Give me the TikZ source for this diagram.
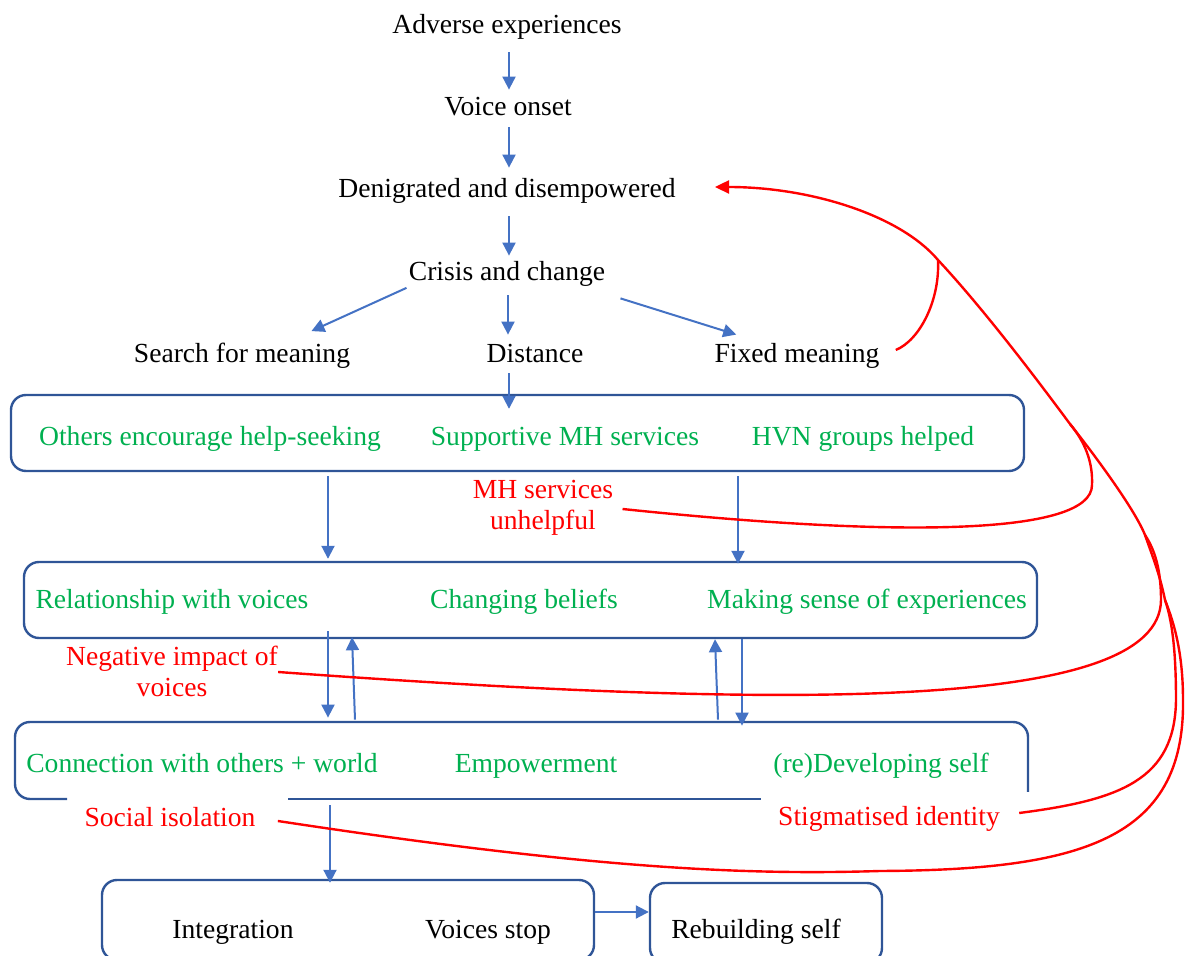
\documentclass[tikz,border=0pt]{standalone}
\usepackage{fontspec}
\setmainfont{Liberation Serif}
\usetikzlibrary{arrows.meta}
\definecolor{flowblue}{HTML}{4472C4}
\definecolor{boxblue}{HTML}{2F5597}
\definecolor{themegreen}{HTML}{00B050}
\definecolor{barrierred}{HTML}{FF0000}

\begin{document}
\begin{tikzpicture}[x=0.5pt,y=-0.5pt,
  font=\fontsize{13.8pt}{15.5pt}\selectfont,
  lbl/.style={inner sep=0pt, text height=11pt, text depth=1.5pt},
  theme/.style={lbl, text=themegreen},
  barrier/.style={inner sep=0pt, align=center, text=barrierred},
  stage/.style={draw=boxblue, line width=1.2pt, rounded corners=7.5pt, inner sep=0pt},
  flow/.style={draw=flowblue, line width=1pt, -{Triangle[length=6.5pt,width=6.5pt]}},
  link/.style={draw=barrierred, line width=1.2pt},
  linkarr/.style={link, -{Triangle[length=7pt,width=6.5pt]}},
]
\useasboundingbox (0,0) rectangle (1185,956);
\clip (0,0) rectangle (1185,956);

% upper pathway
\node[lbl] (adv)    at (507,24)  {Adverse experiences};
\node[lbl] (voice)  at (508,106) {Voice onset};
\node[lbl] (den)    at (507,188) {Denigrated and disempowered};
\node[lbl] (crisis) at (507,271) {Crisis and change};
\node[lbl] (search) at (242,353) {Search for meaning};
\node[lbl] (dist)   at (535,353) {Distance};
\node[lbl] (fixed)  at (797,353) {Fixed meaning};

% stage boxes
\node[stage, minimum width=506.5pt, minimum height=38pt] (b1) at (517.5,433) {};
\node[stage, minimum width=506.5pt, minimum height=38pt] (b2) at (530.5,600) {};
\node[inner sep=0pt, minimum width=506.5pt, minimum height=38.5pt] (b3) at (521.5,760.5) {};
\node[stage, minimum width=246pt, minimum height=40pt] (b4) at (348,920) {};
\node[stage, minimum width=116pt, minimum height=40pt] (b5) at (766,923) {};

% third box outline, open where the barrier labels sit
\draw[boxblue, line width=1.2pt, rounded corners=7.5pt]
  (67,799) -- (15,799) -- (15,722) -- (1028,722) -- (1028,792);
\draw[boxblue, line width=1.2pt] (288,799) -- (761,799);

% box contents
\node[theme] (t11) at (210,436) {Others encourage help-seeking};
\node[theme] (t12) at (565,436) {Supportive MH services};
\node[theme] (t13) at (863,436) {HVN groups helped};
\node[theme] (t21) at (172,599) {Relationship with voices};
\node[theme] (t22) at (524,599) {Changing beliefs};
\node[theme] (t23) at (867,599) {Making sense of experiences};
\node[theme] (t31) at (202,763) {Connection with others + world};
\node[theme] (t32) at (536,763) {Empowerment};
\node[theme] (t33) at (881,763) {(re)Developing self};
\node[lbl] (t41) at (233,929) {Integration};
\node[lbl] (t42) at (488,929) {Voices stop};
\node[lbl] (t51) at (756,929) {Rebuilding self};

% barriers
\node[barrier] (mh)   at (543,508) {MH services\\unhelpful};
\node[barrier] (neg)  at (172,671) {Negative impact of\\voices};
\node[barrier, lbl]  (soc)  at (170,817) {Social isolation};
\node[barrier, lbl]  (stig) at (889,816) {Stigmatised identity};

% forward flow
\draw[flow] ([shift={(2,15.5)}]adv.south) -- ([shift={(1,-3.5)}]voice.north);
\draw[flow] ([shift={(1,8.5)}]voice.south) -- ([shift={(2,-7.5)}]den.north);
\draw[flow] ([shift={(2,15.5)}]den.south) -- ([shift={(2,-2.5)}]crisis.north);
\draw[flow] ([shift={(-2,4)}]crisis.south west) -- ([shift={(-39,-9)}]search.north east);
\draw[flow] ([shift={(1,11.5)}]crisis.south) -- ([shift={(-27,-5.5)}]dist.north);
\draw[flow] ([shift={(15,14.5)}]crisis.south east) -- ([shift={(22,-5.5)}]fixed.north west);
\draw[flow] ([shift={(-26,7.5)}]dist.south) -- ([shift={(-8.5,15)}]b1.north);
\draw[flow] ([shift={(-189.5,4)}]b1.south) -- ([shift={(-202.5,-2)}]b2.north);
\draw[flow] ([shift={(220.5,4)}]b1.south) -- ([shift={(207.5,3)}]b2.north);
\draw[flow] ([shift={(-202.5,-8)}]b2.south) -- ([shift={(-193.5,-4)}]b3.north);
\draw[flow] ([shift={(-166.5,-2)}]b3.north) -- ([shift={(-178.5,-2)}]b2.south);
\draw[flow] ([shift={(196.5,-2)}]b3.north) -- ([shift={(184.5,0)}]b2.south);
\draw[flow] ([shift={(211.5,0)}]b2.south) -- ([shift={(220.5,4)}]b3.north);
\draw[flow] ([shift={(-191.5,6)}]b3.south) -- ([shift={(-18,4)}]b4.north);
\draw[flow] ([shift={(0,-8)}]b4.east) -- ([shift={(0,-11)}]b5.west);

% barrier feedback to disempowerment
\coordinate (j1) at (938,260);
\coordinate (j2) at (1070,424);
\coordinate (j3) at (1145,535);
\coordinate (j4) at (1165,600);

\draw[linkarr] (j4) .. controls (1160,575) and (1152,555) .. (j3)
  .. controls (1135,510) and (1097,458) .. (j2)
  .. controls (1030,370) and (980,305) .. (j1)
  .. controls (900,215) and (810,187) .. ([shift={(39,-1)}]den.east);

\draw[link] ([shift={(16,-3)}]fixed.east) .. controls (920,340) and (940,300) .. (j1);
\draw[link] ([shift={(9,1)}]mh.east) .. controls (900,538) and (1092,535) .. (1092,485)
  .. controls (1093,462) and (1085,442) .. (j2);
\draw[link] ([shift={(0,1)}]neg.east) .. controls (800,710) and (1160,710) .. (1161,600)
  .. controls (1161,570) and (1155,550) .. (j3);
\draw[link] ([shift={(19,-3)}]stig.east) .. controls (1120,800) and (1175,780) .. (1176,700)
  .. controls (1176,650) and (1172,620) .. (j4);
\draw[link] ([shift={(22,4)}]soc.east) .. controls (600,870) and (750,875) .. (880,871)
  .. controls (1080,870) and (1185,840) .. (1183,700)
  .. controls (1183,655) and (1175,625) .. (j4);
\end{tikzpicture}
\end{document}
